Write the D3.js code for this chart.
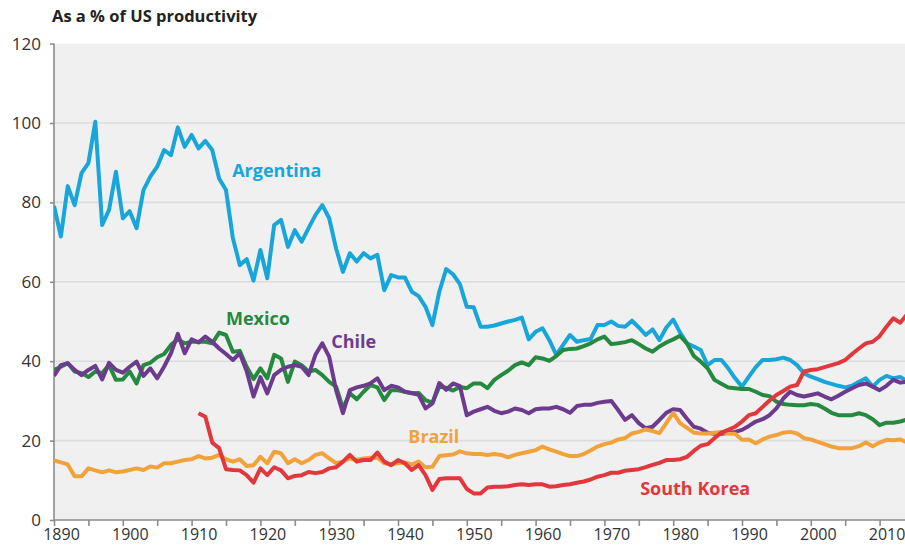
<!DOCTYPE html>
<html>
<head>
<meta charset="utf-8">
<script src="https://cdn.jsdelivr.net/npm/d3@7"></script>
<style>
  body { margin: 0; background: #fff; }
  .axis path, .axis line { stroke: #8c8c8c; stroke-width: 1.6; }
  .axis text { font-family: "Open Sans", sans-serif; font-size: 16px; fill: #333; }
  .y.axis text { font-size: 17px; }
</style>
</head>
<body>
<script>
// productivity relative to the US, yearly values from the chart
var startYear = 1890,
    koreaStart = 1911,
    yTicks = [0, 20, 40, 60, 80, 100, 120],
    decadeLabels = [1890, 1900, 1910, 1920, 1930, 1940, 1950, 1960, 1970, 1980, 1990, 2000, 2010];

var argentina = [79.1, 71.4, 84.1, 79.3, 87.4, 89.9, 100.3, 74.3, 78.1, 87.7,
  76, 77.8, 73.5, 83.1, 86.5, 89, 93.2, 91.9, 98.9, 94,
  97, 93.6, 95.5, 93.2, 86, 83.1, 71, 64.2, 65.7, 60.3,
  68, 60.9, 74.3, 75.6, 68.8, 73, 70.1, 73.5, 76.8, 79.3,
  76, 68.4, 62.5, 67.2, 65.1, 67.2, 65.9, 66.8, 57.9, 61.7,
  61.1, 61.1, 57.5, 56.4, 53.7, 49.1, 57.5, 63.2, 61.9, 59.4,
  53.7, 53.6, 48.7, 48.7, 49, 49.5, 50, 50.4, 51, 45.5,
  47.4, 48.3, 45.3, 41.6, 44.1, 46.6, 44.9, 45.3, 45.6, 49.1,
  49.1, 50, 48.9, 48.7, 50.2, 48.5, 46.6, 48, 45.3, 48.5,
  50.5, 47.2, 44.5, 43.7, 42.8, 39, 40.3, 40.3, 38.2, 35.7,
  33.6, 36.1, 38.5, 40.3, 40.3, 40.5, 40.9, 40.3, 39, 37,
  36.1, 35.5, 34.8, 34.3, 33.8, 33.4, 33.8, 34.8, 35.7, 33.6,
  35.3, 36.3, 35.7, 36, 35];

var mexico = [37.8, 38.6, 39.5, 37.4, 37, 36, 37.4, 37, 39, 35.3,
  35.4, 37.4, 34.4, 39, 39.6, 41, 41.8, 44.1, 45.5, 44.5,
  44.9, 44.9, 44.9, 44.5, 47.2, 46.6, 42.4, 42.6, 38.6, 35.5,
  38.2, 35.7, 41.6, 40.7, 34.8, 39.9, 39, 37.4, 37.8, 36.5,
  34.8, 33.6, 28.1, 31.9, 30.4, 32.3, 34, 33.4, 30.2, 32.7,
  32.7, 32.3, 31.9, 32, 30.2, 29.5, 33.6, 33.3, 32.6, 33.5,
  33.2, 34.4, 34.4, 33.2, 35.3, 36.5, 37.6, 39, 39.7, 39,
  41, 40.7, 40.1, 41.3, 42.8, 43.1, 43.2, 43.8, 44.5, 45.5,
  46.2, 44.3, 44.5, 44.8, 45.3, 44.3, 43.2, 42.4, 43.7, 44.7,
  45.5, 46.4, 44.5, 41.3, 39.9, 38.2, 35.3, 34.3, 33.4, 33.2,
  33, 33, 32.3, 31.5, 31.2, 29.8, 29.2, 29, 28.9, 28.9,
  29.2, 29, 28.1, 27, 26.4, 26.4, 26.4, 26.9, 26.4, 25.4,
  23.9, 24.5, 24.5, 24.8, 25.3];

var chile = [36.3, 39, 39.5, 37.8, 36.5, 37.8, 38.8, 35.4, 39.6, 37.8,
  37.1, 38.6, 39.9, 36.3, 38.2, 35.7, 38.6, 42, 46.9, 42,
  45.5, 44.7, 46.2, 44.9, 43.2, 41.8, 40.3, 42, 37.5, 31.1,
  36, 31.9, 36.5, 37.8, 38.6, 39, 38.6, 36.5, 41.6, 44.5,
  41.1, 32.7, 26.9, 32.7, 33.4, 33.8, 34.4, 35.7, 32.7, 33.8,
  33.4, 32.3, 32, 31.5, 28.1, 29.4, 34.5, 32.8, 34.4, 33.7,
  26.4, 27.3, 27.9, 28.5, 27.5, 26.9, 27.3, 28.1, 27.7, 26.9,
  27.9, 28.1, 28.1, 28.5, 27.9, 27, 28.7, 29, 29, 29.5,
  29.8, 30, 27.7, 25.2, 26.4, 24.4, 23.1, 23.5, 25.2, 27,
  27.9, 27.7, 25.5, 23.5, 23, 22, 21.7, 21.7, 21.9, 22.2,
  22.7, 23.7, 24.8, 25.4, 26.4, 28.1, 30.6, 32.3, 31.5, 31.1,
  31.5, 31.9, 31.1, 30.4, 31.3, 32.3, 33.2, 34, 34.4, 33.6,
  32.7, 33.8, 35.3, 34.6, 34.8];

var brazil = [15, 14.5, 14, 11, 11, 13, 12.5, 12, 12.5, 12,
  12.2, 12.6, 13, 12.6, 13.5, 13.2, 14.3, 14.3, 14.7, 15.1,
  15.3, 16.1, 15.5, 15.7, 16.4, 15.3, 14.7, 15.3, 13.6, 13.8,
  15.9, 14.3, 17.2, 16.8, 14.3, 15.3, 14.3, 15.1, 16.4, 16.8,
  15.5, 14.3, 14.7, 15.5, 15.1, 15.5, 15.7, 15.7, 14.3, 14.1,
  14.3, 14.5, 14, 14.7, 13.3, 13.4, 16.1, 16.3, 16.5, 17.3,
  16.8, 16.6, 16.6, 16.4, 16.6, 16.4, 15.8, 16.4, 16.8, 17.2,
  17.6, 18.5, 17.8, 17.2, 16.6, 16.1, 16.1, 16.6, 17.5, 18.5,
  19.1, 19.5, 20.3, 20.6, 21.8, 22.2, 22.8, 22.4, 21.9, 24.4,
  27, 24.4, 23.2, 22, 21.8, 21.8, 22, 22.2, 21.8, 21.7,
  20.2, 20.3, 19.3, 20.3, 21, 21.4, 22, 22.2, 21.8, 20.6,
  20.3, 19.7, 19.1, 18.5, 18.1, 18.1, 18.1, 18.6, 19.5, 18.6,
  19.5, 20.2, 20.1, 20.3, 19.5];

var southKorea = [26.9, 26, 19.5, 18.1, 12.8, 12.6, 12.5, 11.3, 9.4,
  13, 11.3, 13.3, 12.5, 10.5, 11.1, 11.3, 12.1, 11.8, 12.1,
  13, 13.3, 14.7, 16.4, 14.7, 15.1, 15.1, 17, 14.7, 13.8,
  15.1, 14.3, 12.6, 13.8, 11.3, 7.6, 10.3, 10.5, 10.5, 10.5,
  7.8, 6.7, 6.7, 8.2, 8.4, 8.4, 8.5, 8.8, 9, 8.8,
  9, 9, 8.4, 8.5, 8.8, 9, 9.4, 9.7, 10.2, 10.9,
  11.3, 11.9, 11.9, 12.4, 12.6, 12.8, 13.3, 13.9, 14.4, 15.1,
  15.1, 15.3, 15.9, 17.4, 18.7, 19.1, 20.6, 22, 22.7, 23.5,
  24.8, 26.4, 26.9, 28.5, 30.1, 31.5, 32.5, 33.6, 34, 37.4,
  37.8, 38, 38.5, 39, 39.5, 40.3, 41.8, 43.2, 44.5, 44.9,
  46.3, 48.7, 50.8, 49.7, 51.8];

var countries = ["Argentina", "Mexico", "Chile", "Brazil", "South Korea"];
var colors = ["#18a6da", "#25893f", "#6d3b8e", "#f2a23a", "#e0383c"];

var series = [
  {name: "Argentina", start: startYear, values: argentina},
  {name: "Mexico", start: startYear, values: mexico},
  {name: "Chile", start: startYear, values: chile},
  {name: "Brazil", start: startYear, values: brazil},
  {name: "South Korea", start: koreaStart, values: southKorea}
];

var svgW = 905, svgH = 550;
var plotLeft = 54, plotTop = 43.6, plotBottom = 520;

var x = d3.scaleLinear().domain([1890, 2014]).range([plotLeft, plotLeft + 124 * 6.88]);
var y = d3.scaleLinear().domain([0, 120]).range([plotBottom, plotTop]);
var color = d3.scaleOrdinal().domain(countries).range(colors);

var svg = d3.select("body").append("svg")
    .attr("width", svgW)
    .attr("height", svgH);

// plot background
svg.append("rect")
    .attr("x", plotLeft).attr("y", y(120))
    .attr("width", svgW - plotLeft).attr("height", plotBottom - y(120))
    .attr("fill", "#f0f0f0");

svg.append("defs").append("clipPath").attr("id", "plot")
  .append("rect")
    .attr("x", plotLeft).attr("y", 0)
    .attr("width", svgW - plotLeft).attr("height", plotBottom);

// gridlines
svg.append("g").selectAll("line")
    .data(yTicks.filter(function(d) { return d > 0 && d < 120; }))
  .enter().append("line")
    .attr("x1", plotLeft).attr("x2", svgW)
    .attr("y1", function(d) { return y(d); })
    .attr("y2", function(d) { return y(d); })
    .attr("stroke", "#dcdcdc")
    .attr("stroke-width", 1.6);

// y axis
var yAxis = d3.axisLeft(y).tickValues(yTicks).tickSize(4).tickPadding(9);
svg.append("g")
    .attr("class", "y axis")
    .attr("transform", "translate(" + plotLeft + ",0)")
    .call(yAxis)
    .call(function(g) { g.select(".domain").attr("d", "M0," + y(120) + "V" + plotBottom); });

// x axis, ticks every 5 years
var xAxis = d3.axisBottom(x)
    .tickValues(d3.range(1890, 2015, 5))
    .tickFormat(function(d) { return decadeLabels.indexOf(d) >= 0 ? d : ""; })
    .tickSize(6)
    .tickPadding(3);
svg.append("g")
    .attr("class", "x axis")
    .attr("transform", "translate(0," + plotBottom + ")")
    .call(xAxis)
    .call(function(g) {
      g.select(".domain").attr("d", "M" + plotLeft + ",0H" + svgW);
      g.selectAll("text").attr("dx", 7);
    });

// lines
var line = d3.line()
    .x(function(d) { return x(d.year); })
    .y(function(d) { return y(d.value); });

svg.append("g")
    .attr("clip-path", "url(#plot)")
  .selectAll("path")
    .data(series)
  .enter().append("path")
    .attr("d", function(s) {
      return line(s.values.map(function(v, i) { return {year: s.start + i, value: v}; }));
    })
    .attr("fill", "none")
    .attr("stroke", function(s) { return color(s.name); })
    .attr("stroke-width", 4)
    .attr("stroke-linejoin", "round");

// direct labels
var labelPos = [
  {name: "Argentina", year: 1915.9, value: 86.3},
  {name: "Mexico", year: 1915.0, value: 49.2},
  {name: "Chile", year: 1930.3, value: 43.2},
  {name: "Brazil", year: 1941.5, value: 19.5},
  {name: "South Korea", year: 1975.2, value: 6.2}
];
svg.append("g").selectAll("text")
    .data(labelPos)
  .enter().append("text")
    .attr("x", function(d) { return x(d.year); })
    .attr("y", function(d) { return y(d.value); })
    .attr("font-family", "'Open Sans', sans-serif")
    .attr("font-weight", "bold")
    .attr("font-size", "18px")
    .attr("fill", function(d) { return color(d.name); })
    .text(function(d) { return d.name; });

// title
svg.append("text")
    .attr("x", 52)
    .attr("y", 22)
    .attr("font-family", "'Open Sans', sans-serif")
    .attr("font-weight", "bold")
    .attr("font-size", "16.5px")
    .attr("fill", "#222")
    .text("As a % of US productivity");
</script>
</body>
</html>
